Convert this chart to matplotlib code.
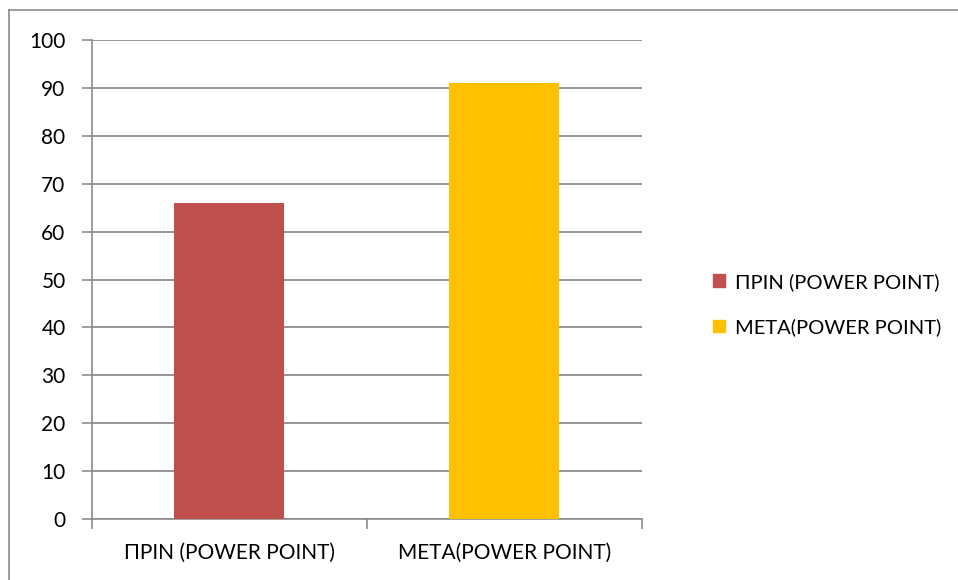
import matplotlib.pyplot as plt
from matplotlib.patches import Patch
from matplotlib.lines import Line2D

# data
categories = ["ΠΡΙΝ (POWER POINT)", "ΜΕΤΑ(POWER POINT)"]
values = [66, 91]
colors = ["#C0504D", "#FFC000"]
y_ticks = list(range(0, 101, 10))

plt.rcParams['font.family'] = ['Lato', 'DejaVu Sans']

fig = plt.figure(figsize=(9.58, 5.8), dpi=100)
ax = fig.add_axes([0.096, 0.105, 0.574, 0.826])

x = list(range(len(categories)))
ax.bar(x, values, width=0.4, color=colors, zorder=3)

ax.set_xlim(-0.5, len(categories) - 0.5)
ax.set_ylim(0, 100)
ax.set_yticks(y_ticks)
ax.yaxis.grid(True, color="#8c8c8c", linewidth=1.3, zorder=0)

# boundary ticks between categories, labels centred under bars
ax.set_xticks([i - 0.5 for i in range(len(categories) + 1)])
ax.set_xticklabels([])
ax.set_xticks(x, minor=True)
ax.set_xticklabels(categories, minor=True)
ax.tick_params(axis="x", which="major", length=7, color="#8c8c8c", width=1.2)
ax.tick_params(axis="x", which="minor", length=0, pad=17, labelsize=15)
ax.tick_params(axis="y", length=7, color="#8c8c8c", width=1.2, pad=12, labelsize=15)

for side in ["top", "right"]:
    ax.spines[side].set_visible(False)
for side in ["left", "bottom"]:
    ax.spines[side].set_color("#8c8c8c")
    ax.spines[side].set_linewidth(1.2)

handles = [Patch(color=c, label=l) for c, l in zip(colors, categories)]
fig.legend(handles=handles, loc="center left", bbox_to_anchor=(0.725, 0.475),
           frameon=False, fontsize=14.5, handlelength=0.6, handleheight=0.6,
           handletextpad=0.5, labelspacing=1.35)

# outer chart border: only the left and top edges show in the crop
bx, by = 9 / 958, 1 - 10 / 580
fig.add_artist(Line2D([bx, bx], [0, by], transform=fig.transFigure,
                      color="#8c8c8c", linewidth=1.2))
fig.add_artist(Line2D([bx, 1], [by, by], transform=fig.transFigure,
                      color="#8c8c8c", linewidth=1.2))

fig.savefig("out.png", dpi=100)
